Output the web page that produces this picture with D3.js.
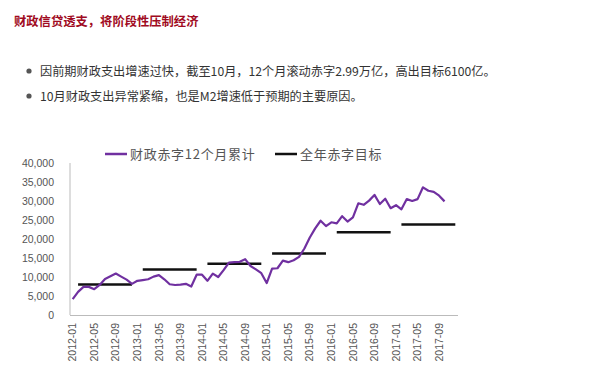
<!DOCTYPE html>
<html>
<head>
<meta charset="utf-8">
<script src="https://cdn.jsdelivr.net/npm/d3@7"></script>
<style>
  body { margin: 0; background: #fff; }
  svg { display: block; }
</style>
</head>
<body>
<svg id="chart"></svg>
<script>
// 财政赤字12个月累计 (亿元), 2012-01 .. 2017-10
const deficit = [
  4200, 6100, 7400, 7400, 6800, 7900, 9500, 10200, 10900, 10100, 9300, 8200,
  9000, 9200, 9400, 10100, 10500, 9400, 8100, 7900, 8000, 8200, 7500, 10600,
  10600, 9000, 10900, 10000, 11800, 13800, 13900, 14000, 14700, 12900, 12000, 11000,
  8400, 12200, 12300, 14300, 13900, 14400, 15300, 17500, 20400, 22800, 24800, 23400,
  24400, 24100, 26000, 24600, 25700, 29400, 29000, 30100, 31600, 29200, 30600, 28100,
  28900, 27800, 30500, 30000, 30500, 33600, 32700, 32400, 31400, 29900
];
// 全年赤字目标
const targetYears = [2012, 2013, 2014, 2015, 2016, 2017];
const targetValues = [8000, 12000, 13500, 16200, 21800, 23800];
const yTicks = [0, 5000, 10000, 15000, 20000, 25000, 30000, 35000, 40000];
const legendLabels = ["财政赤字12个月累计", "全年赤字目标"];

const title = "财政信贷透支，将阶段性压制经济";
const bullets = [
  "因前期财政支出增速过快，截至10月，12个月滚动赤字2.99万亿，高出目标6100亿。",
  "10月财政支出异常紧缩，也是M2增速低于预期的主要原因。"
];

const months = [];
targetYears.forEach(yr => {
  for (let m = 1; m <= 12; m++) months.push(`${yr}-${String(m).padStart(2, "0")}`);
});
const tickMonths = months.filter((d, i) => i % 4 === 0 && i < deficit.length);

const svg = d3.select("#chart").attr("width", 600).attr("height", 378);

// header text
svg.append("text")
  .attr("x", 14).attr("y", 26)
  .attr("font-family", "'Noto Sans CJK SC', sans-serif")
  .attr("font-size", 12.3).attr("font-weight", "bold")
  .attr("fill", "#a00a22")
  .text(title);

bullets.forEach((t, i) => {
  const cy = 71 + i * 25;
  svg.append("circle").attr("cx", 29).attr("cy", cy).attr("r", 2.6).attr("fill", "#555");
  svg.append("text")
    .attr("x", 40).attr("y", cy + 4.5)
    .attr("font-family", "'Noto Sans CJK SC', sans-serif")
    .attr("font-size", 12.2)
    .attr("fill", "#333")
    .text(t);
});

// chart area
const plot = { left: 70, right: 458, top: 163, bottom: 315 };

const x = d3.scaleBand().domain(months).range([plot.left, plot.right]);
const y = d3.scaleLinear().domain([0, 40000]).range([plot.bottom, plot.top]);
const cx = d => x(d) + x.bandwidth() / 2;

const yAxis = svg.append("g")
  .attr("transform", `translate(${plot.left},0)`)
  .call(d3.axisLeft(y).tickValues(yTicks).tickFormat(d3.format(",")).tickSize(0).tickPadding(16));
yAxis.select(".domain").remove();
yAxis.selectAll("text")
  .attr("font-family", "'Liberation Sans', Arial, sans-serif")
  .attr("font-size", 10.5)
  .attr("fill", "#555");

const xAxis = svg.append("g")
  .attr("transform", `translate(0,${plot.bottom})`)
  .call(d3.axisBottom(x).tickValues(tickMonths).tickSize(0));
xAxis.select(".domain").remove();
xAxis.selectAll("text")
  .attr("transform", "rotate(-90)")
  .attr("x", -8).attr("y", 0).attr("dy", "0.35em")
  .style("text-anchor", "end")
  .attr("font-family", "'Liberation Sans', Arial, sans-serif")
  .attr("font-size", 10.5)
  .attr("fill", "#555");

svg.append("line")
  .attr("x1", plot.left).attr("x2", plot.left).attr("y1", plot.top).attr("y2", plot.bottom)
  .attr("stroke", "#bbb").attr("stroke-width", 1);
svg.append("line")
  .attr("x1", plot.left).attr("x2", plot.right).attr("y1", plot.bottom + 0.5).attr("y2", plot.bottom + 0.5)
  .attr("stroke", "#bbb").attr("stroke-width", 1);

// target lines: Feb..Dec of each year
targetYears.forEach((yr, i) => {
  svg.append("line")
    .attr("x1", cx(`${yr}-02`)).attr("x2", cx(`${yr}-12`))
    .attr("y1", y(targetValues[i])).attr("y2", y(targetValues[i]))
    .attr("stroke", "#111").attr("stroke-width", 2.5);
});

const line = d3.line()
  .x((d, i) => cx(months[i]))
  .y(d => y(d));

svg.append("path")
  .datum(deficit)
  .attr("fill", "none")
  .attr("stroke", "#7030a0")
  .attr("stroke-width", 2.2)
  .attr("stroke-linejoin", "round")
  .attr("d", line);

// legend
const legend = [
  { x: 105, color: "#7030a0", label: legendLabels[0] },
  { x: 275, color: "#111", label: legendLabels[1] }
];
legend.forEach(l => {
  svg.append("line")
    .attr("x1", l.x).attr("x2", l.x + 22).attr("y1", 154).attr("y2", 154)
    .attr("stroke", l.color).attr("stroke-width", 2.5);
  svg.append("text")
    .attr("x", l.x + 25).attr("y", 159)
    .attr("font-family", "'Noto Sans CJK SC', serif")
    .attr("font-size", 13)
    .attr("letter-spacing", 0.7)
    .attr("fill", "#555")
    .text(l.label);
});
</script>
</body>
</html>
